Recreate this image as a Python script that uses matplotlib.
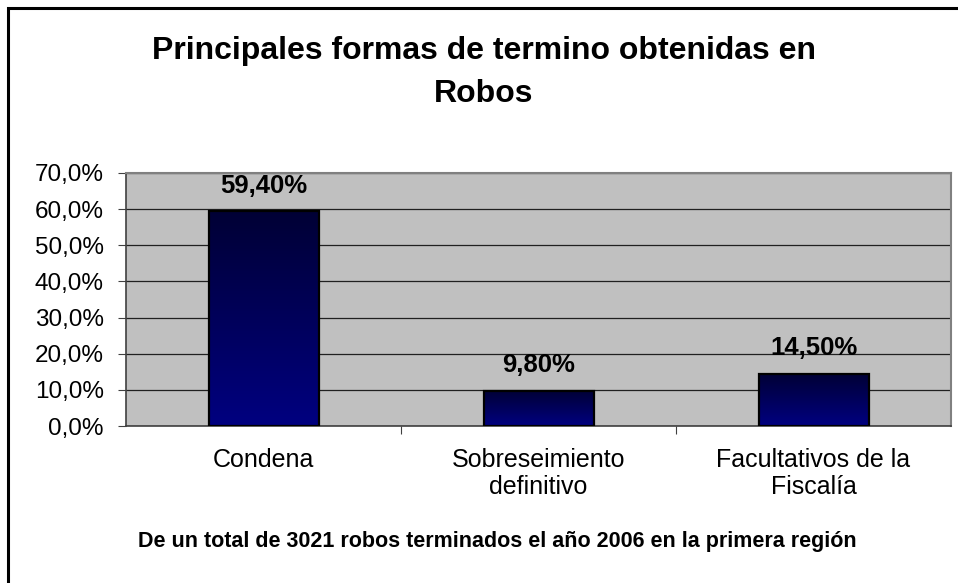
import numpy as np
import matplotlib.pyplot as plt
from matplotlib.patches import Rectangle
from matplotlib.colors import LinearSegmentedColormap

categorias = ["Condena", "Sobreseimiento\ndefinitivo", "Facultativos de la\nFiscalía"]
valores = [59.4, 9.8, 14.5]
etiquetas = ["59,40%", "9,80%", "14,50%"]
ticks_y = [0, 10, 20, 30, 40, 50, 60, 70]
ticks_y_txt = ["0,0%", "10,0%", "20,0%", "30,0%", "40,0%", "50,0%", "60,0%", "70,0%"]

titulo = ["Principales formas de termino obtenidas en", "Robos"]
pie = "De un total de 3021 robos terminados el año 2006 en la primera región"

plt.rcParams['font.family'] = ['Liberation Sans', 'DejaVu Sans']

fig = plt.figure(figsize=(9.58, 5.83), dpi=100)
W, H = 958, 583

# marco exterior (solo se ven borde izq. y sup.)
fig.patches.append(Rectangle((8 / W, -0.1), 1.2, (H - 8) / H + 0.1, transform=fig.transFigure,
                             fill=False, edgecolor='black', linewidth=2.2))

ax = fig.add_axes([126 / W, (H - 426) / H, 825 / W, 253 / H])
ax.set_facecolor('#c0c0c0')

ax.set_yticks(ticks_y)
ax.set_yticklabels(ticks_y_txt, fontsize=17.5)
ax.yaxis.grid(True, color='#202020', linewidth=0.9)
ax.set_axisbelow(True)

ax.set_xticks([0.5, 1.5])
ax.set_xticklabels([])
ax.tick_params(axis='x', direction='out', length=6, color='#404040')
ax.tick_params(axis='y', direction='out', length=6, color='#404040', pad=10)

for i, c in enumerate(categorias):
    ax.text(i, -6.0, c, ha='center', va='top', fontsize=18, linespacing=1.2)

for s in ['top', 'right']:
    ax.spines[s].set_color('#808080')
    ax.spines[s].set_linewidth(1.5)
for s in ['left', 'bottom']:
    ax.spines[s].set_color('#404040')
    ax.spines[s].set_linewidth(1.2)

# barras con degradado
cmap = LinearSegmentedColormap.from_list('azul', ['#000080', '#000035'])
grad = np.linspace(0, 1, 256).reshape(-1, 1)
ancho = 0.4
for i, v in enumerate(valores):
    x0 = i - ancho / 2
    im = ax.imshow(grad, cmap=cmap, aspect='auto', origin='lower',
                   extent=[x0, x0 + ancho, 0, v], zorder=2)
    rect = Rectangle((x0, 0), ancho, v, fill=False, edgecolor='black', linewidth=1.6, zorder=3)
    ax.add_patch(rect)
    im.set_clip_path(rect)
    ax.text(i, v + 5.2, etiquetas[i], ha='center', va='baseline', fontsize=18.5,
            fontweight='bold', zorder=4)

ax.set_xlim(-0.5, 2.5)
ax.set_ylim(0, 70)

fig.text(484 / W, 1 - 59 / H, titulo[0], ha='center', va='baseline', fontsize=23,
         fontweight='bold')
fig.text(484 / W, 1 - 102 / H, titulo[1], ha='center', va='baseline', fontsize=23,
         fontweight='bold')
fig.text(497 / W, 1 - 547 / H, pie, ha='center', va='baseline', fontsize=15.5,
         fontweight='bold')

fig.savefig('out.png', dpi=100)
